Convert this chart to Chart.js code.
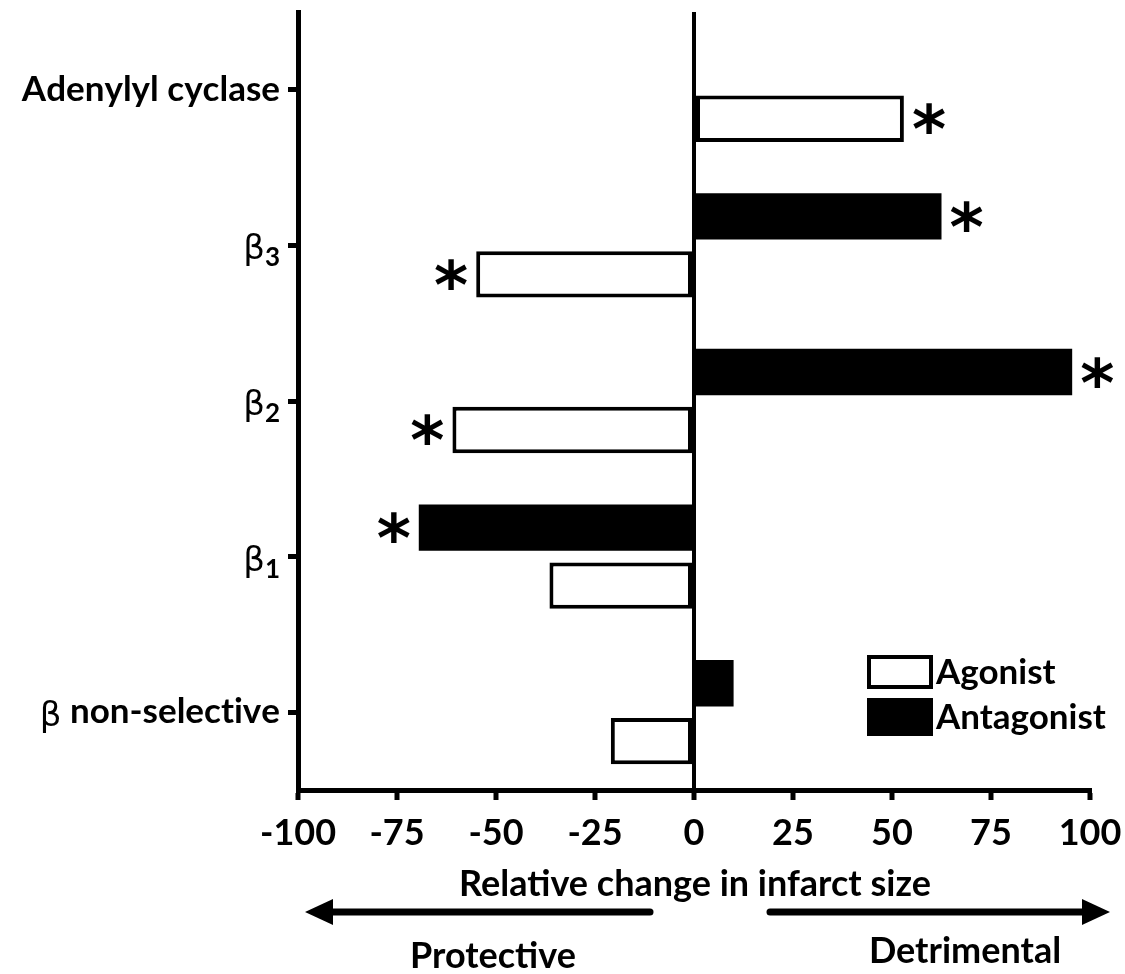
<!DOCTYPE html>
<html>
<head>
<meta charset="utf-8">
<script src="https://cdn.jsdelivr.net/npm/chart.js@4"></script>
<style>
  body { margin: 0; background: #fff; }
  #wrap { width: 1125px; height: 974px; }
</style>
</head>
<body>
<div id="wrap"><canvas id="myChart"></canvas></div>
<script>
'use strict';

// data
let categories = ['Adenylyl cyclase', 'β₃', 'β₂', 'β₁', 'β non-selective'];
let agonist = [53, -55, -61, -36.5, -21];
let antagonist = [null, 62.5, 95.5, -69.5, 10];
let agonistStar = [true, true, true, false, false];
let antagonistStar = [false, true, true, true, false];
let xTicks = [-100, -75, -50, -25, 0, 25, 50, 75, 100];
let xTitle = 'Relative change in infarct size';
let leftNote = 'Protective';
let rightNote = 'Detrimental';

const FONT = "Lato, 'Noto Sans', 'DejaVu Sans', sans-serif";
const SUBS = '₀₁₂₃₄₅₆₇₈₉';

function arrow(ctx, x1, x2, y) {
  // x2 is the tip
  let dir = x2 > x1 ? 1 : -1;
  let head = 28;
  ctx.save();
  ctx.strokeStyle = '#000';
  ctx.fillStyle = '#000';
  ctx.lineWidth = 7;
  ctx.lineCap = 'round';
  ctx.beginPath();
  ctx.moveTo(x1, y);
  ctx.lineTo(x2 - dir * head, y);
  ctx.stroke();
  ctx.beginPath();
  ctx.moveTo(x2, y);
  ctx.lineTo(x2 - dir * head, y - 13);
  ctx.lineTo(x2 - dir * head, y + 13);
  ctx.closePath();
  ctx.fill();
  ctx.restore();
}

// y labels: greek beta in a plain face, subscripts smaller and lower
function drawLabel(ctx, text, right, y) {
  let parts = [];
  for (let ch of text) {
    let k = SUBS.indexOf(ch);
    if (ch === 'β') parts.push({ t: ch, f: '34px "DejaVu Sans"', dy: 14 });
    else if (k >= 0) parts.push({ t: String(k), f: 'bold 26px ' + FONT, dy: 21 });
    else parts.push({ t: ch, f: 'bold 35px ' + FONT, dy: 11 });
  }
  let w = 0;
  parts.forEach(function (p) {
    ctx.font = p.f;
    p.w = ctx.measureText(p.t).width;
    w += p.w;
  });
  let x = right - w;
  parts.forEach(function (p) {
    ctx.font = p.f;
    ctx.fillText(p.t, x, y + p.dy);
    x += p.w;
  });
}

let extras = {
  id: 'extras',
  afterDraw(chart) {
    let ctx = chart.ctx;
    let yScale = chart.scales.y;

    ctx.save();
    ctx.fillStyle = '#000';
    ctx.textAlign = 'left';
    ctx.textBaseline = 'alphabetic';
    categories.forEach(function (c, i) {
      drawLabel(ctx, c, 280, yScale.getPixelForValue(i));
    });
    ctx.restore();

    // significance stars
    ctx.save();
    ctx.fillStyle = '#000';
    ctx.font = 'bold 100px "DejaVu Sans"';
    let m0 = ctx.measureText('*');
    let size = 100 * 32 / (m0.actualBoundingBoxRight + m0.actualBoundingBoxLeft);
    ctx.font = 'bold ' + size + 'px "DejaVu Sans"';
    let m = ctx.measureText('*');
    let shift = (m.actualBoundingBoxAscent - m.actualBoundingBoxDescent) / 2;
    let sets = [[antagonist, antagonistStar], [agonist, agonistStar]];
    sets.forEach(function (s, i) {
      let meta = chart.getDatasetMeta(i);
      meta.data.forEach(function (el, j) {
        if (!s[1][j] || s[0][j] == null) return;
        let y = el.y + shift;
        if (s[0][j] > 0) {
          ctx.textAlign = 'left';
          ctx.fillText('*', el.x + 8, y);
        } else {
          ctx.textAlign = 'right';
          ctx.fillText('*', el.x - 8, y);
        }
      });
    });
    ctx.restore();

    // legend
    ctx.save();
    ctx.fillStyle = '#fff';
    ctx.strokeStyle = '#000';
    ctx.lineWidth = 4;
    ctx.fillRect(869, 657, 62, 30);
    ctx.strokeRect(869, 657, 62, 30);
    ctx.fillStyle = '#000';
    ctx.fillRect(867, 698, 66, 38);
    ctx.font = 'bold 35px ' + FONT;
    ctx.textAlign = 'left';
    ctx.textBaseline = 'middle';
    ctx.fillText('Agonist', 936, 673);
    ctx.fillText('Antagonist', 936, 718);
    ctx.restore();

    // axis title, arrows and notes
    ctx.save();
    ctx.fillStyle = '#000';
    ctx.textAlign = 'center';
    ctx.textBaseline = 'alphabetic';
    ctx.font = 'bold 36px ' + FONT;
    ctx.fillText(xTitle, 695, 896);
    arrow(ctx, 650, 305, 912);
    arrow(ctx, 770, 1110, 912);
    ctx.fillText(leftNote, 493, 968);
    ctx.fillText(rightNote, 965, 963);
    ctx.restore();
  }
};

let ctx = document.getElementById('myChart').getContext('2d');

new Chart(ctx, {
  type: 'bar',
  data: {
    labels: categories,
    datasets: [{
      label: 'Antagonist',
      data: antagonist,
      backgroundColor: '#000',
      borderWidth: 0
    },
    {
      label: 'Agonist',
      data: agonist,
      backgroundColor: '#fff',
      borderColor: '#000',
      borderWidth: 4,
      borderSkipped: false
    }]
  },
  options: {
    indexAxis: 'y',
    responsive: true,
    maintainAspectRatio: false,
    animation: false,
    devicePixelRatio: 1,
    layout: { padding: { top: 12, right: 35, left: 0, bottom: 0 } },
    datasets: {
      bar: { barPercentage: 0.8, categoryPercentage: 0.745 }
    },
    plugins: {
      legend: { display: false },
      tooltip: { enabled: false }
    },
    scales: {
      x: {
        min: -100,
        max: 100,
        afterBuildTicks: function (scale) {
          scale.ticks = xTicks.map(function (v) { return { value: v }; });
        },
        afterFit: function (scale) {
          scale.height = 184;
          scale.paddingLeft = 0;
          scale.paddingRight = 0;
        },
        border: { display: true, color: '#000', width: 5 },
        grid: {
          color: function (c) { return c.tick && c.tick.value === 0 ? '#000' : 'rgba(0,0,0,0)'; },
          lineWidth: 4,
          drawTicks: true,
          tickLength: 10,
          tickWidth: 5,
          tickColor: '#000'
        },
        ticks: {
          color: '#000',
          padding: 12,
          maxRotation: 0,
          font: { family: FONT, size: 36, weight: 'bold' }
        }
      },
      y: {
        afterFit: function (scale) { scale.width = 298; },
        border: { display: true, color: '#000', width: 5 },
        grid: {
          offset: false,
          drawOnChartArea: false,
          drawTicks: true,
          tickLength: 10,
          tickWidth: 5,
          tickColor: '#000'
        },
        ticks: { display: false }
      }
    }
  },
  plugins: [extras]
});
</script>
</body>
</html>
